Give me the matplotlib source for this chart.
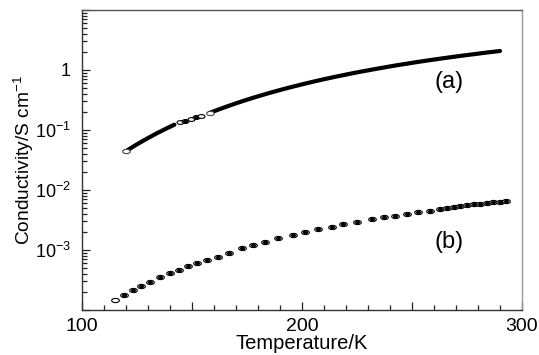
import numpy as np
from matplotlib import pyplot as plt
from matplotlib.path import Path
from matplotlib.transforms import Affine2D
from matplotlib.ticker import MultipleLocator, FixedLocator, FuncFormatter, LogLocator, NullFormatter

plt.rcParams['font.family'] = ['Liberation Sans', 'DejaVu Sans']
plt.rcParams['mathtext.fontset'] = 'custom'
plt.rcParams['mathtext.rm'] = 'Liberation Sans'
plt.rcParams['mathtext.it'] = 'Liberation Sans:italic'

# curve (a): log10 of conductivity, three pieces (dense / sparse / dense)
T_a1 = [120, 122, 124, 126, 128, 130, 132, 134, 136, 138, 140, 142]
lg_a1 = [-1.355, -1.308, -1.263, -1.219, -1.177, -1.136, -1.096, -1.057,
         -1.020, -0.983, -0.948, -0.913]
T_a2 = [144.5, 147, 149.5, 152, 154]
lg_a2 = [-0.875, -0.845, -0.815, -0.790, -0.775]
T_a3 = [158, 161, 164, 167, 170, 173, 176, 179, 182, 185, 188, 191, 194, 197,
        200, 203, 206, 209, 212, 215, 218, 221, 224, 227, 230, 233, 236, 239,
        242, 245, 248, 251, 254, 257, 260, 263, 266, 269, 272, 275, 278, 281,
        284, 287, 290]
lg_a3 = [-0.717, -0.675, -0.634, -0.595, -0.557, -0.520, -0.485, -0.451,
         -0.418, -0.386, -0.355, -0.325, -0.296, -0.268, -0.241, -0.214,
         -0.188, -0.163, -0.139, -0.115, -0.093, -0.070, -0.048, -0.027,
         -0.007, 0.013, 0.033, 0.052, 0.071, 0.089, 0.106, 0.124, 0.141,
         0.157, 0.173, 0.189, 0.204, 0.219, 0.234, 0.248, 0.262, 0.276,
         0.290, 0.303, 0.316]

# curve (b)
T_b = [115, 119, 123, 127, 131, 135.5, 140, 144, 148, 152.5, 157, 162, 167,
       172.6, 177.9, 183.2, 189.2, 196.0, 201.4, 207.4, 213.5, 218.8, 224.9,
       231.7, 237.3, 242.3, 247.6, 252.9, 258.2, 262.7, 266, 269, 272, 275,
       278, 281, 284, 287, 290, 292.5]
lg_b = [-3.833, -3.75, -3.672, -3.60, -3.528, -3.455, -3.389, -3.33, -3.274,
        -3.225, -3.175, -3.11, -3.05, -2.972, -2.917, -2.861, -2.807, -2.75,
        -2.706, -2.656, -2.611, -2.572, -2.533, -2.489, -2.450, -2.428, -2.40,
        -2.372, -2.344, -2.317, -2.30, -2.285, -2.27, -2.255, -2.24, -2.228,
        -2.216, -2.206, -2.198, -2.19]

ellipse = Path.unit_circle().transformed(Affine2D().scale(1.0, 0.55))

fig = plt.figure(figsize=(5.39, 3.55), dpi=100)
ax = fig.add_axes([0.152, 0.127, 0.8165, 0.845])

# (a)
for T, lg in [(T_a1, lg_a1), (T_a3, lg_a3)]:
    ax.plot(T, 10**np.array(lg), '-', color='k', lw=3.0, solid_capstyle='round')
ax.plot(T_a2, 10**np.array(lg_a2), ls='none', marker=ellipse, ms=5,
        mfc='white', mec='k', mew=0.8)
ax.plot(T_a2[1::2], 10**np.array(lg_a2[1::2]), ls='none', marker='o', ms=2.5,
        mfc='k', mec='k')
ax.plot([T_a1[0], T_a3[0]], [10**lg_a1[0], 10**lg_a3[0]], ls='none',
        marker=ellipse, ms=5.5, mfc='white', mec='#444', mew=0.8)

# (b)
ax.plot(T_b, 10**np.array(lg_b), ls='none', marker=ellipse, ms=5.5,
        mfc='white', mec='k', mew=0.8)
ax.plot(T_b[1:], 10**np.array(lg_b[1:]), ls='none', marker=ellipse, ms=2.8,
        mfc='k', mec='k')

ax.text(267, 0.63, '(a)', fontsize=17, ha='center', va='center')
ax.text(267, 1.36e-3, '(b)', fontsize=17, ha='center', va='center')

ax.set_xlim(100, 300)
ax.set_yscale('log')
ax.set_ylim(1e-4, 10)

ax.xaxis.set_major_locator(MultipleLocator(50))
ax.xaxis.set_minor_locator(MultipleLocator(10))
ax.xaxis.set_major_formatter(FuncFormatter(lambda v, p: '%d' % v if v % 100 == 0 else ''))

ax.yaxis.set_major_locator(FixedLocator([1e-4, 1e-3, 1e-2, 1e-1, 1, 10]))
ylabels = {1e-3: r'$10^{-3}$', 1e-2: r'$10^{-2}$', 1e-1: r'$10^{-1}$', 1: '1'}
def yfmt(v, p):
    for k, s in ylabels.items():
        if abs(v - k) < k * 1e-6:
            return s
    return ''
ax.yaxis.set_major_formatter(FuncFormatter(yfmt))
ax.yaxis.set_minor_locator(LogLocator(base=10, subs=np.arange(2, 10), numticks=20))
ax.yaxis.set_minor_formatter(NullFormatter())

ax.tick_params(which='both', direction='in', top=False, right=False,
               color='#222', width=0.9)
ax.tick_params(which='major', length=6)
ax.tick_params(axis='x', which='major', pad=6, labelsize=14)
ax.tick_params(axis='y', which='major', pad=8, labelsize=13)
ax.tick_params(which='minor', length=3.5)

ax.spines['left'].set_color('#333')
ax.spines['bottom'].set_color('#333')
ax.spines['top'].set_color('#555')
ax.spines['right'].set_color('#999')
for s in ax.spines.values():
    s.set_linewidth(1.0)

ax.set_xlabel('Temperature/K', fontsize=14.5, labelpad=-1)
ax.set_ylabel('Conductivity/S cm$^{-1}$', fontsize=13.8, labelpad=-1)

plt.savefig('out.png', dpi=100)
